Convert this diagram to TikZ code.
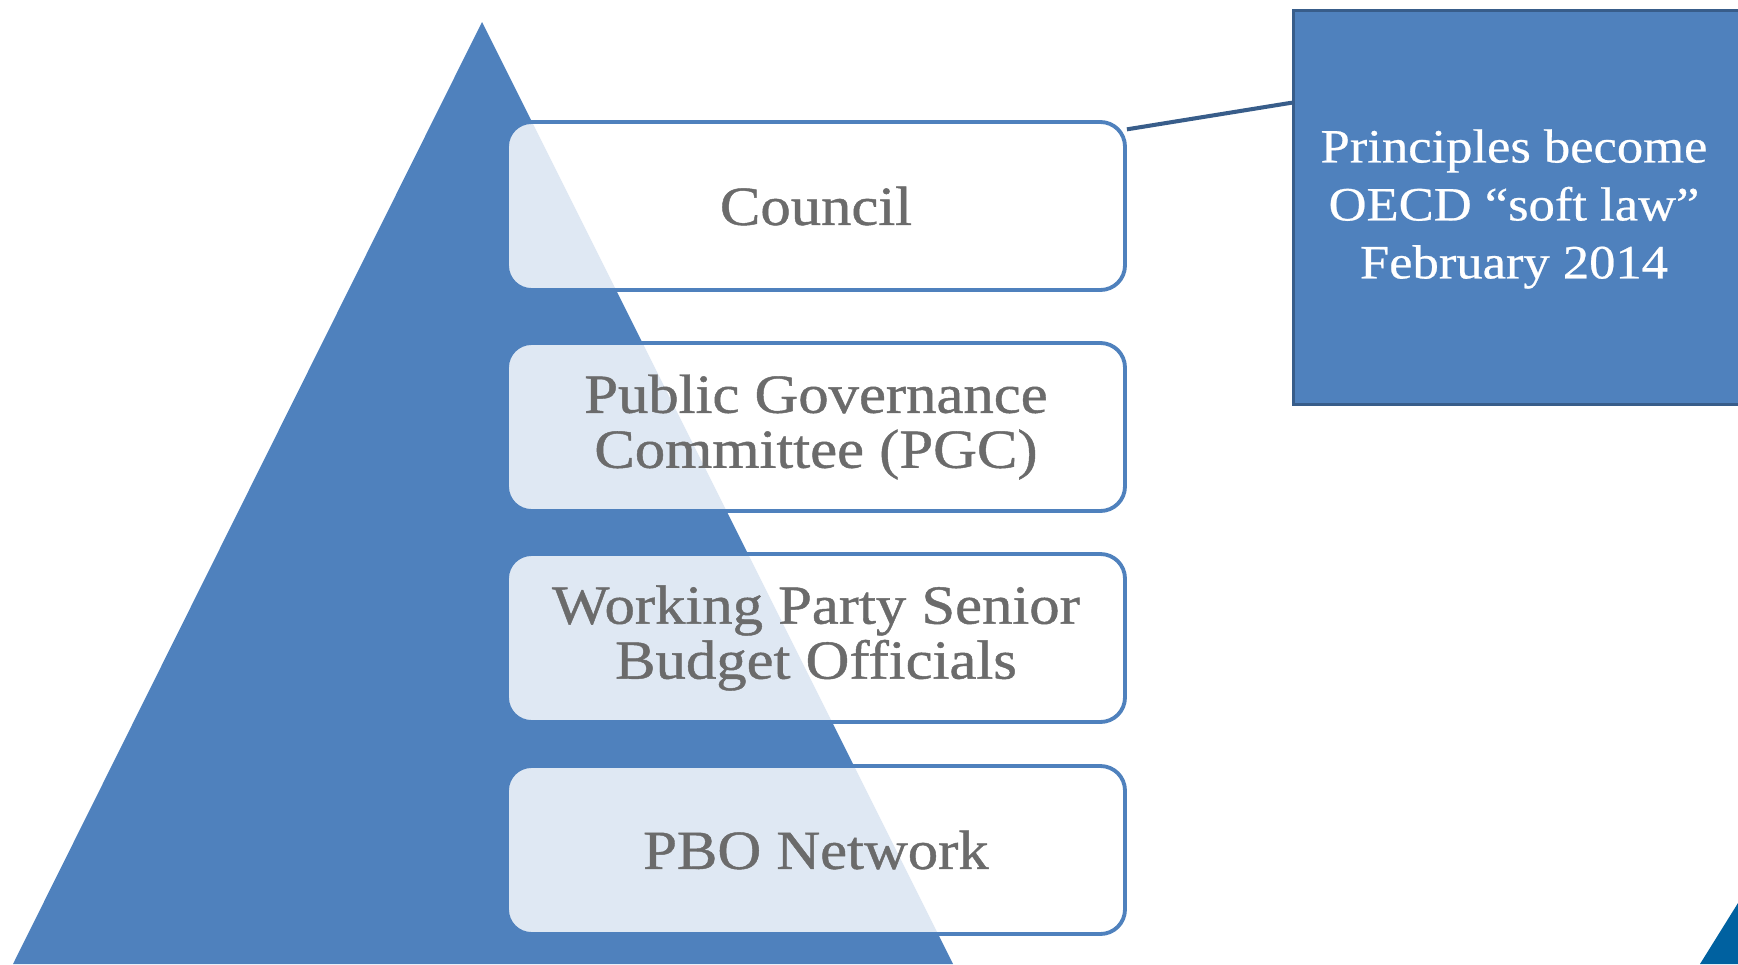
\documentclass[tikz,border=0pt]{standalone}
\usepackage{fontspec}
\usetikzlibrary{calc}
\setmainfont{Liberation Serif}
\newfontfamily\boxfont[FakeStretch=1.1,FakeBold=0.8]{Liberation Serif}
\newfontfamily\notefont[FakeStretch=1.1,FakeBold=0.5]{Liberation Serif}
\definecolor{oblue}{HTML}{4F81BD}
\definecolor{odark}{HTML}{385D8A}
\definecolor{ogrey}{HTML}{6B6B6B}
\definecolor{ocorner}{HTML}{0061A0}
\begin{document}
\begin{tikzpicture}[x=0.02cm,y=-0.02cm,
  levelbox/.style={draw=oblue,line width=2.2pt,rounded corners=14pt,fill=white,fill opacity=0.82,text opacity=1,
    minimum width=618*0.02cm,minimum height=168*0.02cm,text=ogrey,align=center,
    font=\boxfont\fontsize{31.4}{31.3}\selectfont,inner sep=0pt},
  notebox/.style={draw=odark,line width=1.6pt,fill=oblue,
    minimum width=460*0.02cm,minimum height=394*0.02cm,inner sep=0pt},
  notetxt/.style={text=white,align=center,font=\notefont\fontsize{27.2}{33}\selectfont},
  link/.style={draw=odark,line width=2.3pt}]
\useasboundingbox (0,0) rectangle (1738,964);
\fill[oblue] (482,22) -- (953,964) -- (13,964) -- cycle;
\fill[ocorner] (1700,964) -- (1738,903) -- (1738,964) -- cycle;
\node[levelbox] (council) at (816,206) {Council};
\node[levelbox] (pgc) at (816,427) {Public Governance\\Committee (PGC)};
\node[levelbox] (wp) at (816,638) {Working Party Senior\\Budget Officials};
\node[levelbox] (pbo) at (816,850) {PBO Network};
\node[notebox,anchor=north west] (note) at (1292,9) {};
\node[notetxt] (notetext) at (1514,209) {Principles become\\OECD “soft law”\\February 2014};
\coordinate (cA) at ($(council.north east)!0.054!(council.south east)$);
\coordinate (cB) at ($(note.north west)!0.236!(note.south west)$);
\draw[link] (cA) -- (cB);
\end{tikzpicture}
\end{document}
